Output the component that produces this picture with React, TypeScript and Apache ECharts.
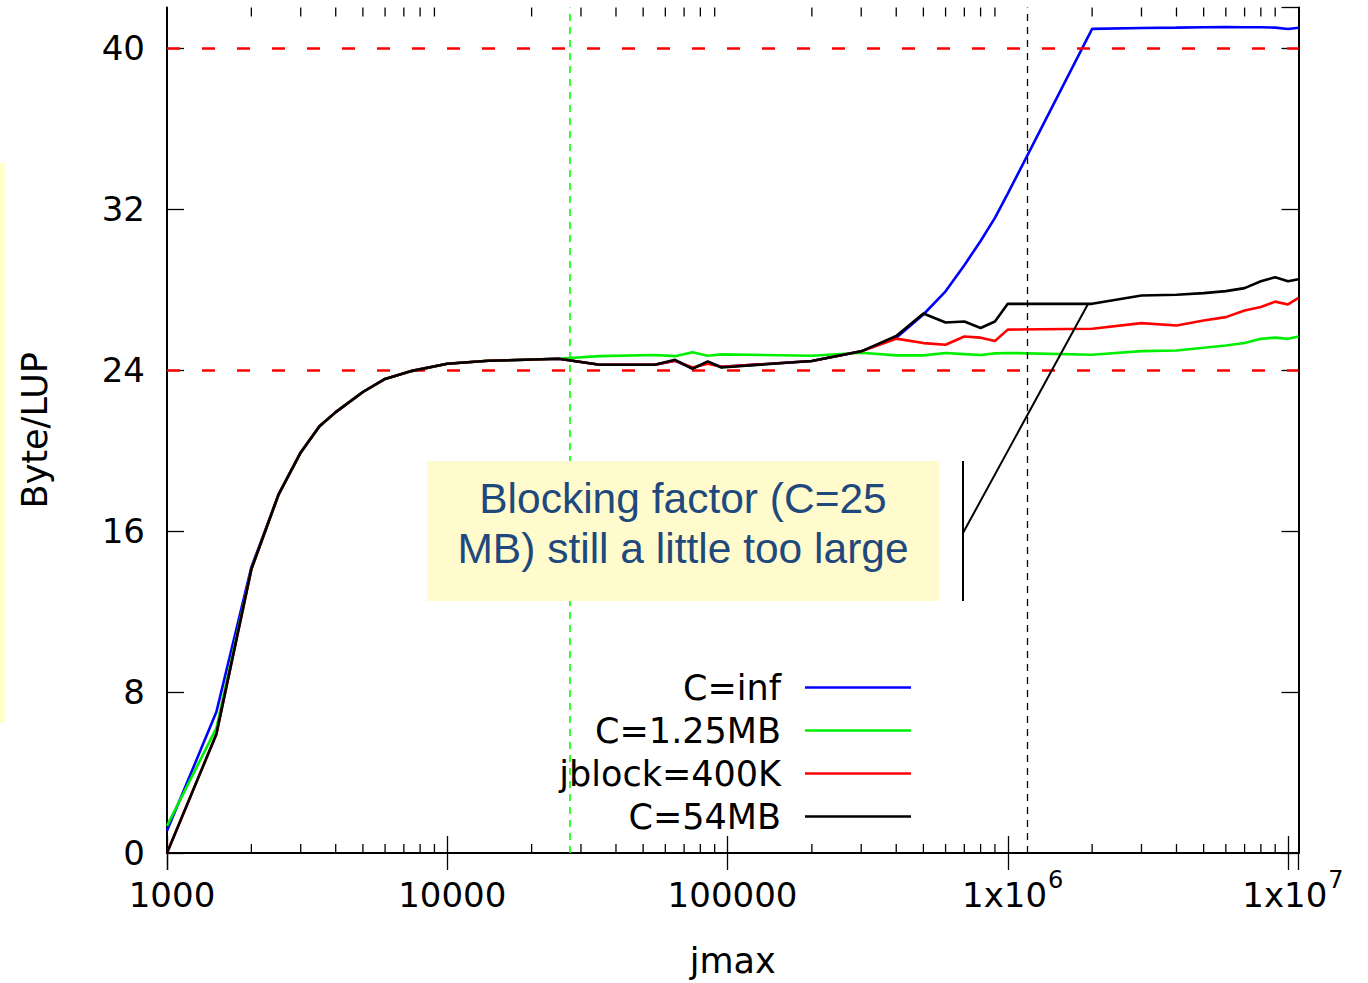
import React, { useEffect, useRef } from 'react';
import * as echarts from 'echarts';

// x values (jmax) shared by all series
const jmax = [
  1000, 1500, 2000, 2500, 3000, 3500, 4000, 5000, 6000, 7500, 10000, 14000, 25000,
  35000, 55000, 65000, 75000, 85000, 95000, 200000, 300000, 400000, 500000, 600000,
  700000, 800000, 900000, 1000000, 2000000, 3000000, 4000000, 5000000, 6000000,
  7000000, 8000000, 9000000, 10000000, 10900000,
];

// Byte/LUP per series
const cInf = [
  1.1, 7.0, 14.2, 17.8, 19.9, 21.2, 21.9, 22.9, 23.55, 23.95, 24.3, 24.45, 24.55,
  24.25, 24.25, 24.45, 24.08, 24.38, 24.15, 24.44, 24.92, 25.6, 26.75, 27.9,
  29.2, 30.4, 31.55, 32.75, 40.94, 40.98, 41.0, 41.02, 41.03,
  41.02, 41.02, 41.0, 40.93, 40.99,
];
const c125MB = [
  1.35, 6.2, 14.1, 17.8, 19.9, 21.2, 21.9, 22.9, 23.55, 23.95, 24.3, 24.45, 24.55,
  24.68, 24.74, 24.68, 24.88, 24.7, 24.77, 24.7, 24.85, 24.72, 24.72, 24.84,
  24.78, 24.74, 24.82, 24.84, 24.75, 24.93, 24.96, 25.1, 25.21,
  25.33, 25.54, 25.6, 25.54, 25.66,
];
const jblock400K = [
  0, 5.9, 14.1, 17.8, 19.9, 21.2, 21.9, 22.9, 23.55, 23.95, 24.3, 24.45, 24.55,
  24.25, 24.25, 24.45, 24.12, 24.3, 24.15, 24.44, 24.92, 25.55, 25.33, 25.25,
  25.66, 25.6, 25.43, 26.0, 26.04, 26.32, 26.2, 26.45, 26.62,
  26.95, 27.12, 27.39, 27.25, 27.58,
];
const c54MB = [
  0, 5.9, 14.1, 17.8, 19.9, 21.2, 21.9, 22.9, 23.55, 23.95, 24.3, 24.45, 24.55,
  24.25, 24.25, 24.5, 24.05, 24.42, 24.12, 24.44, 24.92, 25.68, 26.8, 26.35,
  26.4, 26.08, 26.4, 27.28, 27.28, 27.69, 27.73, 27.81, 27.91,
  28.06, 28.4, 28.6, 28.4, 28.5,
];

const seriesNames = ['C=inf', 'C=1.25MB', 'jblock=400K', 'C=54MB'];
const seriesColors = ['#0000ff', '#00ee00', '#ff0000', '#000000'];
const seriesValues = [cInf, c125MB, jblock400K, c54MB];

// reference lines
const refLevels = [40, 24];
const l2Limit = 27350; // green dashed vertical
const l3Limit = 1177000; // black dashed vertical

// axis ranges and ticks
const X_MIN = 1000;
const X_MAX = 10900000;
const Y_MIN = 0;
const Y_MAX = 42;
const Y_STEP = 8;
const minorTickValues = [
  2000, 3000, 4000, 5000, 6000, 7000, 8000, 9000,
  20000, 30000, 40000, 50000, 60000, 70000, 80000, 90000,
  200000, 300000, 400000, 500000, 600000, 700000, 800000, 900000,
  2000000, 3000000, 4000000, 5000000, 6000000, 7000000, 8000000, 9000000,
];

const FONT = 'DejaVu Sans';

export default function App() {
  const ref = useRef<HTMLDivElement>(null);

  useEffect(() => {
    const chart = echarts.init(ref.current!, null, { renderer: 'svg' });

    const frameLine = { show: true, lineStyle: { color: '#000', width: 2 } };
    const majorTick = { show: true, inside: true, length: 17, lineStyle: { color: '#000', width: 1.3 } };

    const xLabelFormatter = (v: number) => {
      const e = Math.round(Math.log10(v));
      if (e >= 6) return '{b|1x10}{sup|' + e + '}';
      return '{b|' + Math.round(v) + '}';
    };

    const lineSeries: any[] = seriesNames.map((name, i) => ({
      name,
      type: 'line',
      xAxisIndex: 0,
      yAxisIndex: 0,
      data: jmax.map((x, k) => [x, seriesValues[i][k]]),
      showSymbol: false,
      symbol: 'none',
      color: seriesColors[i],
      lineStyle: { color: seriesColors[i], width: 2.6 },
      silent: true,
      z: 3 + i,
    }));

    lineSeries[0].markLine = {
      silent: true,
      symbol: ['none', 'none'],
      label: { show: false },
      data: [
        ...refLevels.map((y) => ({
          yAxis: y,
          lineStyle: { color: '#ff0000', width: 2.5, type: [13, 22] },
        })),
        { xAxis: l2Limit, lineStyle: { color: '#00ff00', width: 1.6, type: [7, 6] } },
        { xAxis: l3Limit, lineStyle: { color: '#000000', width: 1.3, type: [7, 6] } },
      ],
    };

    const minorTickSeries = {
      type: 'custom',
      name: 'minorTicks',
      xAxisIndex: 0,
      yAxisIndex: 0,
      silent: true,
      z: 10,
      clip: false,
      data: minorTickValues.map((v) => [v, Y_MIN]),
      renderItem: (params: any, api: any) => {
        const v = api.value(0);
        const b = api.coord([v, Y_MIN]);
        const t = api.coord([v, Y_MAX]);
        const st = { stroke: '#000', lineWidth: 1.3 };
        return {
          type: 'group',
          children: [
            { type: 'line', shape: { x1: b[0], y1: b[1], x2: b[0], y2: b[1] - 9 }, style: st },
            { type: 'line', shape: { x1: t[0], y1: t[1], x2: t[0], y2: t[1] + 9 }, style: st },
          ],
        };
      },
    };

    chart.setOption({
      animation: false,
      backgroundColor: '#ffffff',
      grid: { left: 167, right: 69.5, top: 7.5, bottom: 128, containLabel: false },
      legend: {
        data: seriesNames,
        orient: 'vertical',
        right: 457,
        top: 666,
        align: 'right',
        icon: 'rect',
        itemWidth: 106,
        itemHeight: 2.5,
        itemGap: 0,
        padding: 0,
        selectedMode: false,
        textStyle: {
          fontSize: 35,
          fontFamily: FONT,
          color: '#000',
          lineHeight: 43,
          padding: [0, 19, 0, 0],
        },
      },
      xAxis: [
        {
          type: 'log',
          logBase: 10,
          min: X_MIN,
          max: X_MAX,
          position: 'bottom',
          axisLine: frameLine,
          axisTick: majorTick,
          splitLine: { show: false },
          axisLabel: {
            showMaxLabel: false,
            margin: 16,
            padding: [0, 0, 0, 10],
            formatter: xLabelFormatter,
            rich: {
              b: { fontSize: 34, fontFamily: FONT, color: '#000', lineHeight: 52 },
              sup: { fontSize: 24, fontFamily: FONT, color: '#000', lineHeight: 24, padding: [0, 0, 30, 1] },
            },
          },
          name: 'jmax',
          nameLocation: 'middle',
          nameGap: 90,
          nameTextStyle: { fontSize: 35, fontFamily: FONT, color: '#000' },
        },
        {
          type: 'log',
          logBase: 10,
          min: X_MIN,
          max: X_MAX,
          position: 'top',
          axisLine: frameLine,
          axisTick: majorTick,
          axisLabel: { show: false },
          splitLine: { show: false },
        },
      ],
      yAxis: [
        {
          type: 'value',
          min: Y_MIN,
          max: Y_MAX,
          interval: Y_STEP,
          position: 'left',
          axisLine: frameLine,
          axisTick: majorTick,
          splitLine: { show: false },
          axisLabel: {
            showMaxLabel: false,
            margin: 22,
            fontSize: 34,
            fontFamily: FONT,
            color: '#000',
          },
          name: 'Byte/LUP',
          nameLocation: 'middle',
          nameGap: 115,
          nameTextStyle: { fontSize: 35, fontFamily: FONT, color: '#000' },
        },
        {
          type: 'value',
          min: Y_MIN,
          max: Y_MAX,
          interval: Y_STEP,
          position: 'right',
          axisLine: frameLine,
          axisTick: majorTick,
          axisLabel: { show: false },
          splitLine: { show: false },
        },
      ],
      series: [...lineSeries, minorTickSeries],
      graphic: [
        { type: 'rect', shape: { x: 0, y: 163, width: 5, height: 560 }, style: { fill: '#ffffcc' }, z: 1 },
        { type: 'rect', shape: { x: 427, y: 461, width: 512, height: 140 }, style: { fill: '#fffbcc' }, z: 20 },
        {
          type: 'text',
          x: 683,
          y: 523,
          z: 21,
          style: {
            text: 'Blocking factor (C=25\nMB) still a little too large',
            font: '42.5px "Liberation Sans", Arial, sans-serif',
            fill: '#1f497d',
            align: 'center',
            verticalAlign: 'middle',
            lineHeight: 50,
          },
        },
        { type: 'line', shape: { x1: 963, y1: 461, x2: 963, y2: 601 }, style: { stroke: '#000', lineWidth: 2 }, z: 21 },
        { type: 'line', shape: { x1: 963, y1: 533, x2: 1088, y2: 304 }, style: { stroke: '#000', lineWidth: 2 }, z: 21 },
      ],
    });

    return () => chart.dispose();
  }, []);

  return (
    <div
      ref={ref}
      style={{ position: 'fixed', left: 0, top: 0, width: 1368, height: 983, background: '#fff' }}
    />
  );
}
